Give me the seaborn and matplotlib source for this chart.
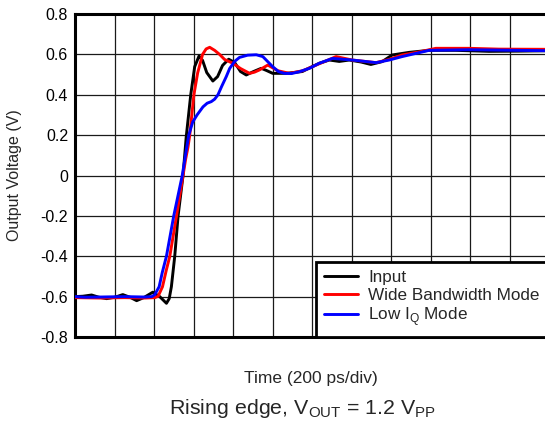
import numpy as np
import pandas as pd
import matplotlib
matplotlib.use("Agg")
import matplotlib.pyplot as plt
import seaborn as sns

# ---- data (time in ps from left edge, voltage in V) ----
input_t = [0, 40, 84, 121, 160, 202, 242, 278, 312, 348, 394, 429, 463, 477, 488, 505,
           522, 547, 563, 586, 606, 628, 646, 667, 698, 722, 747, 778, 808, 838, 867,
           904, 943, 970, 1001, 1069, 1151, 1202, 1237, 1288, 1338, 1389, 1449, 1498,
           1555, 1606, 1692, 1793, 1928, 2096, 2247, 2400]
input_v = [-0.600, -0.598, -0.592, -0.603, -0.610, -0.603, -0.590, -0.603, -0.620, -0.605,
           -0.578, -0.600, -0.633, -0.610, -0.551, -0.400, -0.200, 0.000, 0.190, 0.400,
           0.539, 0.592, 0.570, 0.510, 0.468, 0.490, 0.545, 0.576, 0.560, 0.515, 0.498,
           0.515, 0.531, 0.520, 0.506, 0.506, 0.515, 0.540, 0.556, 0.572, 0.565, 0.572,
           0.562, 0.550, 0.564, 0.597, 0.610, 0.620, 0.620, 0.615, 0.616, 0.618]

wide_t = [0, 126, 252, 354, 404, 421, 443, 462, 480, 514, 547, 560, 572, 581, 602, 621,
          646, 664, 682, 707, 732, 757, 799, 838, 884, 909, 934, 976, 1027, 1086, 1153,
          1221, 1322, 1404, 1524, 1591, 1656, 1742, 1827, 1995, 2146, 2400]
wide_v = [-0.605, -0.607, -0.605, -0.607, -0.605, -0.598, -0.551, -0.470, -0.400, -0.200,
          0.000, 0.080, 0.140, 0.200, 0.400, 0.508, 0.600, 0.627, 0.635, 0.620, 0.600,
          0.575, 0.556, 0.530, 0.506, 0.512, 0.523, 0.547, 0.519, 0.506, 0.519, 0.547,
          0.589, 0.572, 0.559, 0.575, 0.597, 0.612, 0.630, 0.630, 0.626, 0.625]

lowiq_t = [0, 51, 126, 252, 354, 389, 404, 426, 442, 463, 500, 543, 561, 576, 596, 618,
           648, 669, 690, 707, 724, 742, 766, 783, 808, 833, 874, 918, 951, 975, 1001,
           1030, 1060, 1096, 1136, 1187, 1237, 1304, 1404, 1524, 1591, 1656, 1793, 1995,
           2400]
lowiq_v = [-0.600, -0.603, -0.602, -0.600, -0.602, -0.600, -0.590, -0.551, -0.480, -0.400,
           -0.200, 0.000, 0.110, 0.200, 0.265, 0.300, 0.340, 0.358, 0.366, 0.378, 0.400,
           0.440, 0.490, 0.530, 0.565, 0.585, 0.596, 0.598, 0.589, 0.565, 0.539, 0.515,
           0.506, 0.505, 0.514, 0.531, 0.556, 0.580, 0.572, 0.559, 0.572, 0.589, 0.620,
           0.623, 0.618]

series_names = ["Input", "Wide Bandwidth Mode", "Low I$_\\mathregular{Q}$ Mode"]
series_colors = ["#000000", "#ff0000", "#0000ff"]
y_ticks = [0.8, 0.6, 0.4, 0.2, 0.0, -0.2, -0.4, -0.6, -0.8]
y_tick_labels = ["0.8", "0.6", "0.4", "0.2", "0", "-0.2", "-0.4", "-0.6", "-0.8"]
x_grid = list(range(0, 2401, 200))

df = pd.concat([
    pd.DataFrame({"t": input_t, "v": input_v, "s": series_names[0]}),
    pd.DataFrame({"t": wide_t, "v": wide_v, "s": series_names[1]}),
    pd.DataFrame({"t": lowiq_t, "v": lowiq_v, "s": series_names[2]}),
], ignore_index=True)

sns.set_theme(style="white")
plt.rcParams["font.family"] = ["Liberation Sans", "DejaVu Sans"]
plt.rcParams["mathtext.fontset"] = "custom"
plt.rcParams["mathtext.rm"] = "Liberation Sans"

fig = plt.figure(figsize=(5.45, 4.24), dpi=100)
ax = fig.add_axes([75 / 545, 1 - 337 / 424, 474 / 545, 323 / 424])

sns.lineplot(data=df, x="t", y="v", hue="s", hue_order=series_names,
             palette=dict(zip(series_names, series_colors)), linewidth=2.1,
             sort=False, estimator=None, ax=ax, legend=False, zorder=3)

ax.set_xlim(0, 2400)
ax.set_ylim(-0.8, 0.8)
ax.set_xticks(x_grid)
ax.set_xticklabels([])
ax.set_yticks(y_ticks)
ax.set_yticklabels(y_tick_labels, fontsize=11.5)
ax.tick_params(axis="both", length=0, pad=5, colors="black")
ax.grid(True, color="#1a1a1a", linewidth=0.9)
ax.set_axisbelow(True)
for side in ["left", "top", "bottom"]:
    ax.spines[side].set_visible(True)
    ax.spines[side].set_color("black")
    ax.spines[side].set_linewidth(2.2)
ax.spines["right"].set_visible(False)
ax.set_xlabel("")
ax.set_ylabel("")

handles = [plt.Line2D([], [], color=c, linewidth=2.1) for c in series_colors]
leg = ax.legend(handles, series_names, loc="lower left",
                bbox_to_anchor=(0.508, 0.0, 0.6, 0.0), mode="expand",
                borderaxespad=0, frameon=True, fancybox=False, fontsize=12.3,
                handlelength=1.95, handletextpad=0.6, labelspacing=0.15,
                borderpad=0.5)
frame = leg.get_frame()
frame.set_edgecolor("black")
frame.set_linewidth(2.0)
frame.set_facecolor("white")
frame.set_alpha(1)
leg.set_zorder(5)

fig.text(15 / 545, 1 - 175 / 424, "Output Voltage (V)", rotation=90,
         ha="center", va="center", fontsize=11.5)
fig.text(311 / 545, 1 - 378 / 424, "Time (200 ps/div)", ha="center", va="center",
         fontsize=12.5)
fig.text(303 / 545, 1 - 409 / 424,
         "Rising edge, V$_\\mathregular{OUT}$ = 1.2 V$_\\mathregular{PP}$",
         ha="center", va="center", fontsize=15.4)

fig.savefig("out.png", dpi=100)
